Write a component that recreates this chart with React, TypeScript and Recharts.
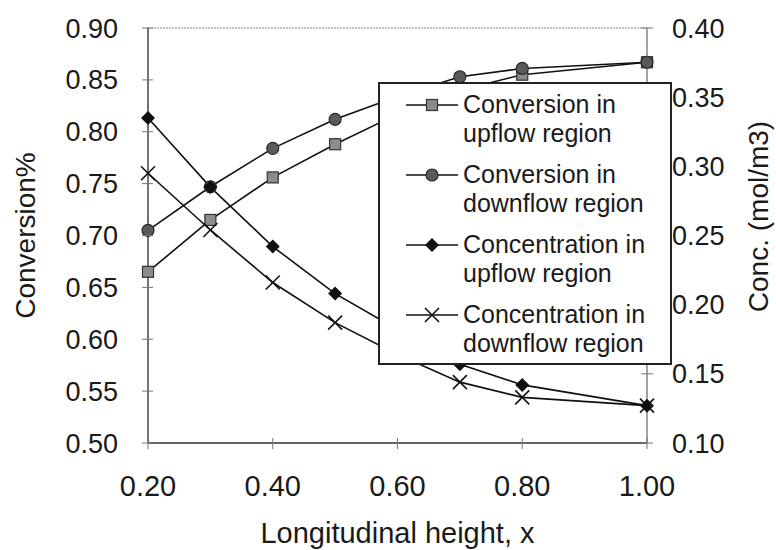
import React from 'react';
import { LineChart, Line, XAxis, YAxis, Legend, ReferenceLine } from 'recharts';

const xValues = [0.2, 0.3, 0.4, 0.5, 0.6, 0.7, 0.8, 1.0];
const conversionUpflow = [0.665, 0.715, 0.756, 0.788, 0.817, 0.84, 0.855, 0.867];
const conversionDownflow = [0.705, 0.747, 0.784, 0.812, 0.834, 0.853, 0.861, 0.867];
const concentrationUpflow = [0.335, 0.285, 0.242, 0.208, 0.182, 0.157, 0.142, 0.127];
const concentrationDownflow = [0.295, 0.254, 0.216, 0.187, 0.164, 0.144, 0.133, 0.127];

const xTicks = [0.2, 0.4, 0.6, 0.8, 1.0];
const leftTicks = [0.5, 0.55, 0.6, 0.65, 0.7, 0.75, 0.8, 0.85, 0.9];
const rightTicks = [0.1, 0.15, 0.2, 0.25, 0.3, 0.35, 0.4];

const seriesNames = [
  ['Conversion in', 'upflow region'],
  ['Conversion in', 'downflow region'],
  ['Concentration in', 'upflow region'],
  ['Concentration in', 'downflow region'],
];

const data = xValues.map((x, i) => ({
  x,
  convUp: conversionUpflow[i],
  convDown: conversionDownflow[i],
  concUp: concentrationUpflow[i],
  concDown: concentrationDownflow[i],
}));

const FONT = '"Liberation Sans", Arial, sans-serif';
const INK = '#1a1a1a';

const SquareMark = ({ cx, cy }: any) => (
  <rect x={cx - 5.5} y={cy - 5.5} width={11} height={11} fill="#8c8c8c" stroke="#333" strokeWidth={1.2} />
);
const CircleMark = ({ cx, cy }: any) => (
  <circle cx={cx} cy={cy} r={6} fill="#5a5a5a" stroke="#2a2a2a" strokeWidth={1.2} />
);
const DiamondMark = ({ cx, cy }: any) => (
  <polygon points={`${cx},${cy - 7} ${cx + 7},${cy} ${cx},${cy + 7} ${cx - 7},${cy}`} fill="#111" />
);
const CrossMark = ({ cx, cy }: any) => (
  <g stroke="#111" strokeWidth={1.6}>
    <line x1={cx - 7} y1={cy - 7} x2={cx + 7} y2={cy + 7} />
    <line x1={cx - 7} y1={cy + 7} x2={cx + 7} y2={cy - 7} />
  </g>
);
const marks = [SquareMark, CircleMark, DiamondMark, CrossMark];

const mkDot = (Comp: any) => (p: any) => {
  if (p.cx == null || p.cy == null) return <g key={p.key || p.index} />;
  return <Comp key={p.key || `d${p.index}`} cx={p.cx} cy={p.cy} />;
};

const LeftTick = (props: any) => {
  const { x, y, payload } = props;
  const ax = x + 30;
  return (
    <g>
      <line x1={ax - 6} x2={ax + 5} y1={y} y2={y} stroke="#777" strokeWidth={1} />
      <text x={x} y={y} dy="0.355em" textAnchor="end" fontSize={27} fontFamily={FONT} fill={INK}>
        {Number(payload.value).toFixed(2)}
      </text>
    </g>
  );
};

const RightTick = (props: any) => {
  const { x, y, payload } = props;
  const ax = x - 25;
  return (
    <g>
      <line x1={ax - 6} x2={ax + 6} y1={y} y2={y} stroke="#777" strokeWidth={1} />
      <text x={x} y={y} dy="0.355em" textAnchor="start" fontSize={27} fontFamily={FONT} fill={INK}>
        {Number(payload.value).toFixed(2)}
      </text>
    </g>
  );
};

const BottomTick = (props: any) => {
  const { x, y, payload } = props;
  const ay = y - 32;
  return (
    <g>
      <line x1={x} x2={x} y1={ay - 5} y2={ay + 6} stroke="#777" strokeWidth={1} />
      <text x={x} y={y} dy="0.71em" textAnchor="middle" fontSize={29} fontFamily={FONT} fill={INK}>
        {Number(payload.value).toFixed(2)}
      </text>
    </g>
  );
};

const LeftTitle = ({ viewBox }: any) => {
  const cx = viewBox.x + 25;
  const cy = viewBox.y + viewBox.height / 2;
  return (
    <text x={cx} y={cy} dy="0.36em" textAnchor="middle" transform={`rotate(-90 ${cx} ${cy})`}
      fontSize={28} fontFamily={FONT} fill={INK}>Conversion%</text>
  );
};

const RightTitle = ({ viewBox }: any) => {
  const cx = viewBox.x + 111;
  const cy = viewBox.y + viewBox.height / 2 - 19;
  return (
    <text x={cx} y={cy} dy="0.36em" textAnchor="middle" transform={`rotate(-90 ${cx} ${cy})`}
      fontSize={28} fontFamily={FONT} fill={INK}>Conc. (mol/m3)</text>
  );
};

const BottomTitle = ({ viewBox }: any) => (
  <text x={viewBox.x + viewBox.width / 2} y={viewBox.y + 100} textAnchor="middle"
    fontSize={29} fontFamily={FONT} fill={INK}>Longitudinal height, x</text>
);

const LegendBox = () => (
  <div style={{
    position: 'relative', width: 294, height: 283, boxSizing: 'border-box',
    border: '2px solid #222', background: '#fff', fontFamily: FONT, fontSize: 25, color: INK,
  }}>
    {seriesNames.map((lines, i) => {
      const M = marks[i];
      return (
        <React.Fragment key={i}>
          <svg width={56} height={20} style={{ position: 'absolute', left: 24, top: 11 + 70 * i }}>
            <line x1={2} x2={54} y1={10} y2={10} stroke="#111" strokeWidth={1.6} />
            <M cx={28} cy={10} />
          </svg>
          <div style={{ position: 'absolute', left: 83, top: 6 + 70 * i, lineHeight: '29px', whiteSpace: 'nowrap' }}>
            <div>{lines[0]}</div>
            <div>{lines[1]}</div>
          </div>
        </React.Fragment>
      );
    })}
  </div>
);

export default function App() {
  return (
    <div style={{ position: 'absolute', left: 0, top: 0, width: 776, height: 550, background: '#fff' }}>
      <LineChart width={776} height={550} data={data} margin={{ top: 28, right: 0, bottom: 0, left: 0 }}>
        <XAxis dataKey="x" type="number" domain={[0.2, 1.0]} ticks={xTicks} height={107}
          axisLine={{ stroke: '#333', strokeWidth: 1.5 }} tickLine={false} tickSize={6} tickMargin={26}
          tick={<BottomTick />} label={<BottomTitle />} interval={0} />
        <YAxis yAxisId="left" orientation="left" domain={[0.5, 0.9]} ticks={leftTicks} width={148}
          axisLine={{ stroke: '#444', strokeWidth: 1.5 }} tickLine={false} tickSize={6} tickMargin={24}
          tick={<LeftTick />} label={<LeftTitle />} interval={0} />
        <YAxis yAxisId="right" orientation="right" domain={[0.1, 0.4]} ticks={rightTicks} width={129}
          axisLine={{ stroke: '#666', strokeWidth: 1.2 }} tickLine={false} tickSize={6} tickMargin={19}
          tick={<RightTick />} label={<RightTitle />} interval={0} />
        <ReferenceLine yAxisId="left" y={0.9} stroke="#888" strokeWidth={1.2} strokeDasharray="2 1" />
        <Line yAxisId="left" dataKey="convUp" stroke="#111" strokeWidth={1.6} dot={mkDot(SquareMark)}
          activeDot={false} isAnimationActive={false} />
        <Line yAxisId="left" dataKey="convDown" stroke="#111" strokeWidth={1.6} dot={mkDot(CircleMark)}
          activeDot={false} isAnimationActive={false} />
        <Line yAxisId="right" dataKey="concUp" stroke="#111" strokeWidth={1.6} dot={mkDot(DiamondMark)}
          activeDot={false} isAnimationActive={false} />
        <Line yAxisId="right" dataKey="concDown" stroke="#111" strokeWidth={1.6} dot={mkDot(CrossMark)}
          activeDot={false} isAnimationActive={false} />
        <Legend layout="vertical" align="center" verticalAlign="middle" content={<LegendBox />}
          wrapperStyle={{ left: 378, top: 82, width: 294, height: 283, margin: 0, padding: 0 }} />
      </LineChart>
    </div>
  );
}
